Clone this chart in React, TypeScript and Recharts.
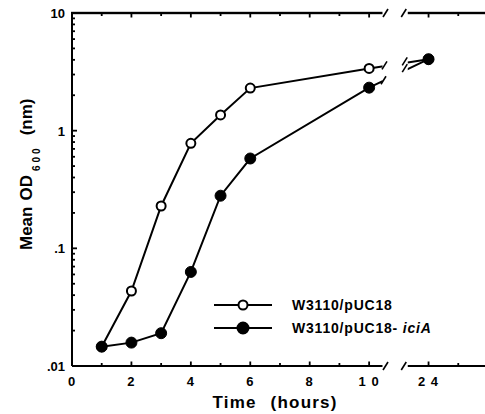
import { LineChart, Line, XAxis, YAxis } from 'recharts';

const times = [1, 2, 3, 4, 5, 6, 10, 24];
const pUC18 = [0.0146, 0.0434, 0.229, 0.78, 1.36, 2.3, 3.38, 4.05];
const pUC18iciA = [0.0146, 0.0158, 0.019, 0.063, 0.28, 0.58, 2.32, 4.05];

const xTicks = [0, 1, 2, 3, 4, 5, 6, 7, 8, 9, 10, 24, 25];
const xLabels: Record<number, string> = { 0: '0', 2: '2', 4: '4', 6: '6', 8: '8', 10: '1 0', 24: '2 4' };
const yMajor = [0.01, 0.1, 1, 10];
const yLabels = ['.01', '.1', '1', '10'];
const yTicks = [0.01, 0.02, 0.03, 0.04, 0.05, 0.06, 0.07, 0.08, 0.09, 0.1, 0.2, 0.3, 0.4, 0.5, 0.6, 0.7, 0.8, 0.9, 1, 2, 3, 4, 5, 6, 7, 8, 9, 10];

// the axis is broken between 10 and 24 h: 24 h is drawn at position 12
const pos = (t: number) => (t > 12 ? t - 12 : t);
const unpos = (p: number) => (p > 10.5 ? p + 12 : p);
const gapFrom = 10.45;
const gapTo = 11.3;
const xMax = 13.9;

const data = times.map((t, i) => ({ x: pos(t), a: pUC18[i], b: pUC18iciA[i] }));

const W = 485;
const H = 414;
const M = { top: 13, right: 0, bottom: 0, left: 0 };
const yAxisW = 72;
const xAxisH = 48;
const plot = {
  left: M.left + yAxisW,
  top: M.top,
  width: W - M.left - M.right - yAxisW,
  height: H - M.top - M.bottom - xAxisH,
};

const font = '"Liberation Sans", Arial, Helvetica, sans-serif';

const XTick = (props: any) => {
  const { x, y, payload } = props;
  const t = unpos(payload.value);
  if (xLabels[t] === undefined) return <g />;
  return (
    <text x={x} y={y + 20} textAnchor="middle" fontFamily={font} fontWeight="bold" fontSize={13} letterSpacing={1}>
      {xLabels[t]}
    </text>
  );
};

const YTick = (props: any) => {
  const { x, y, payload } = props;
  const idx = yMajor.findIndex((v) => Math.abs(v - payload.value) < 1e-9);
  if (idx < 0) return <g />;
  return (
    <text x={x - 7} y={y + 5} textAnchor="end" fontFamily={font} fontWeight="bold" fontSize={13}>
      {yLabels[idx]}
    </text>
  );
};

// overlay: top frame, inward tick marks, and the axis break (white gap plus "/ /" marks)
const Overlay = () => {
  const px = (p: number) => plot.left + (p / xMax) * plot.width;
  const yOf = (v: number) => plot.top + plot.height * (1 - (Math.log10(v) + 2) / 3);
  const lineY = (vals: number[], p: number) => {
    const y0 = yOf(vals[6]);
    const y1 = yOf(vals[7]);
    return y0 + ((y1 - y0) * (p - pos(10))) / (pos(24) - pos(10));
  };
  const x0 = px(gapFrom);
  const x1 = px(gapTo);
  const slash = (cx: number, cy: number) => (
    <path key={cx + '-' + cy} d={`M${cx - 2.5},${cy + 4}L${cx + 2.5},${cy - 4}`} stroke="#000" strokeWidth={1.6} fill="none" />
  );
  const yTop = plot.top;
  const yBot = plot.top + plot.height;
  return (
    <svg width={W} height={H} style={{ position: 'absolute', left: 0, top: 0, pointerEvents: 'none' }}>
      <rect x={plot.left - 1} y={yTop - 1.2} width={plot.width + 1} height={2.4} fill="#000" />
      {xTicks.map((t) => {
        const len = xLabels[t] !== undefined ? 4.5 : 3;
        return (
          <g key={'x' + t}>
            <rect x={px(pos(t)) - 0.9} y={yTop} width={1.8} height={len} fill="#000" />
            <rect x={px(pos(t)) - 0.9} y={yBot - len} width={1.8} height={len} fill="#000" />
          </g>
        );
      })}
      {yTicks.map((v) => {
        const major = yMajor.some((m) => Math.abs(m - v) < 1e-9);
        const len = major ? 5 : 3;
        return <rect key={'y' + v} x={plot.left} y={yOf(v) - 0.9} width={len} height={1.8} fill="#000" />;
      })}
      <rect x={x0} y={yTop - 3} width={x1 - x0} height={plot.height + 6} fill="#fff" />
      {slash(x0 + 3, yTop)}
      {slash(x1 - 4, yTop)}
      {slash(x0 + 3, yBot)}
      {slash(x1 - 4, yBot)}
      {slash(x0 + 2, lineY(pUC18, gapFrom) - 1)}
      {slash(x1 - 3, lineY(pUC18, gapTo) - 1)}
      {slash(x0 + 1, lineY(pUC18iciA, gapFrom) - 1)}
      {slash(x1 - 3, lineY(pUC18iciA, gapTo) - 1)}
    </svg>
  );
};

const legendItems = [
  { name: 'W3110/pUC18', filled: false },
  { name: 'W3110/pUC18-', italic: 'iciA', filled: true },
];

const LegendBox = () => (
  <svg width={250} height={50} style={{ position: 'absolute', left: 214, top: 297 }}>
    {legendItems.map((it, i) => {
      const cy = 8 + i * 23;
      return (
        <g key={it.name}>
          <line x1={0} x2={58} y1={cy} y2={cy} stroke="#000" strokeWidth={2} />
          <circle cx={29} cy={cy} r={it.filled ? 5.5 : 4.5} fill={it.filled ? '#000' : '#fff'} stroke="#000" strokeWidth={2} />
          <text x={78} y={cy + 5} fontFamily={font} fontWeight="bold" fontSize={14} letterSpacing={0.8}>
            {it.name}
            {it.italic && <tspan fontStyle="italic">{' ' + it.italic}</tspan>}
          </text>
        </g>
      );
    })}
  </svg>
);

const YLabel = () => (
  <text transform="rotate(-90)" x={-250} y={32} fontFamily={font} fontWeight="bold" fontSize={17}>
    <tspan>Mean</tspan>
    <tspan dx={6}>OD</tspan>
    <tspan dx={4} dy={8} fontSize={10} letterSpacing={3}>600</tspan>
    <tspan dx={10} dy={-8}>(nm)</tspan>
  </text>
);

const XLabel = () => (
  <text x={275} y={408} textAnchor="middle" fontFamily={font} fontWeight="bold" fontSize={17} letterSpacing={1.2}>
    <tspan>Time</tspan>
    <tspan dx={14}>(hours)</tspan>
  </text>
);

export default function App() {
  return (
    <div style={{ position: 'absolute', left: 0, top: 0, width: W, height: H, background: '#fff' }}>
      <LineChart width={W} height={H} data={data} margin={M}>
        <XAxis
          dataKey="x"
          type="number"
          domain={[0, xMax]}
          ticks={xTicks.map(pos)}
          interval={0}
          tickSize={0}
          tickMargin={0}
          tickLine={false}
          tick={<XTick />}
          height={xAxisH}
          axisLine={{ stroke: '#000', strokeWidth: 2 }}
          label={<XLabel />}
        />
        <YAxis
          scale="log"
          domain={[0.01, 10]}
          ticks={yTicks}
          interval={0}
          allowDataOverflow
          tickSize={0}
          tickMargin={0}
          tickLine={false}
          tick={<YTick />}
          width={yAxisW}
          axisLine={{ stroke: '#000', strokeWidth: 2 }}
          label={<YLabel />}
        />
        <Line dataKey="a" stroke="#000" strokeWidth={2} isAnimationActive={false}
          dot={{ r: 4.5, fill: '#fff', stroke: '#000', strokeWidth: 2 }} />
        <Line dataKey="b" stroke="#000" strokeWidth={2} isAnimationActive={false}
          dot={{ r: 5.5, fill: '#000', stroke: '#000', strokeWidth: 1 }} />
      </LineChart>
      <Overlay />
      <LegendBox />
    </div>
  );
}
